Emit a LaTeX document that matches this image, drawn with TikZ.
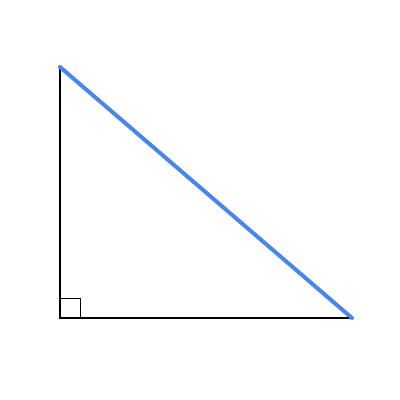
\documentclass[tikz,border=0pt]{standalone}
\definecolor{hypblue}{HTML}{4A86E8}
\begin{document}
\begin{tikzpicture}[x=1pt,y=-1pt,
  leg/.style={draw=black,line width=2.4pt},
  hyp/.style={draw=hypblue,line width=4pt,line cap=round},
  rightmark/.style={draw=black,line width=1pt}]
\useasboundingbox (0,0) rectangle (400,400);
\fill[white] (0,0) rectangle (400,400);
\coordinate (A) at (60,67);
\coordinate (B) at (60,318);
\coordinate (C) at (352,318);
\coordinate (M1) at (60,298);
\coordinate (M2) at (80,298);
\coordinate (M3) at (80,318);
\draw[rightmark] (M1) -- (M2) -- (M3);
\draw[leg] (A) -- (B) -- (C);
\draw[hyp] (A) -- (C);
\end{tikzpicture}
\end{document}
